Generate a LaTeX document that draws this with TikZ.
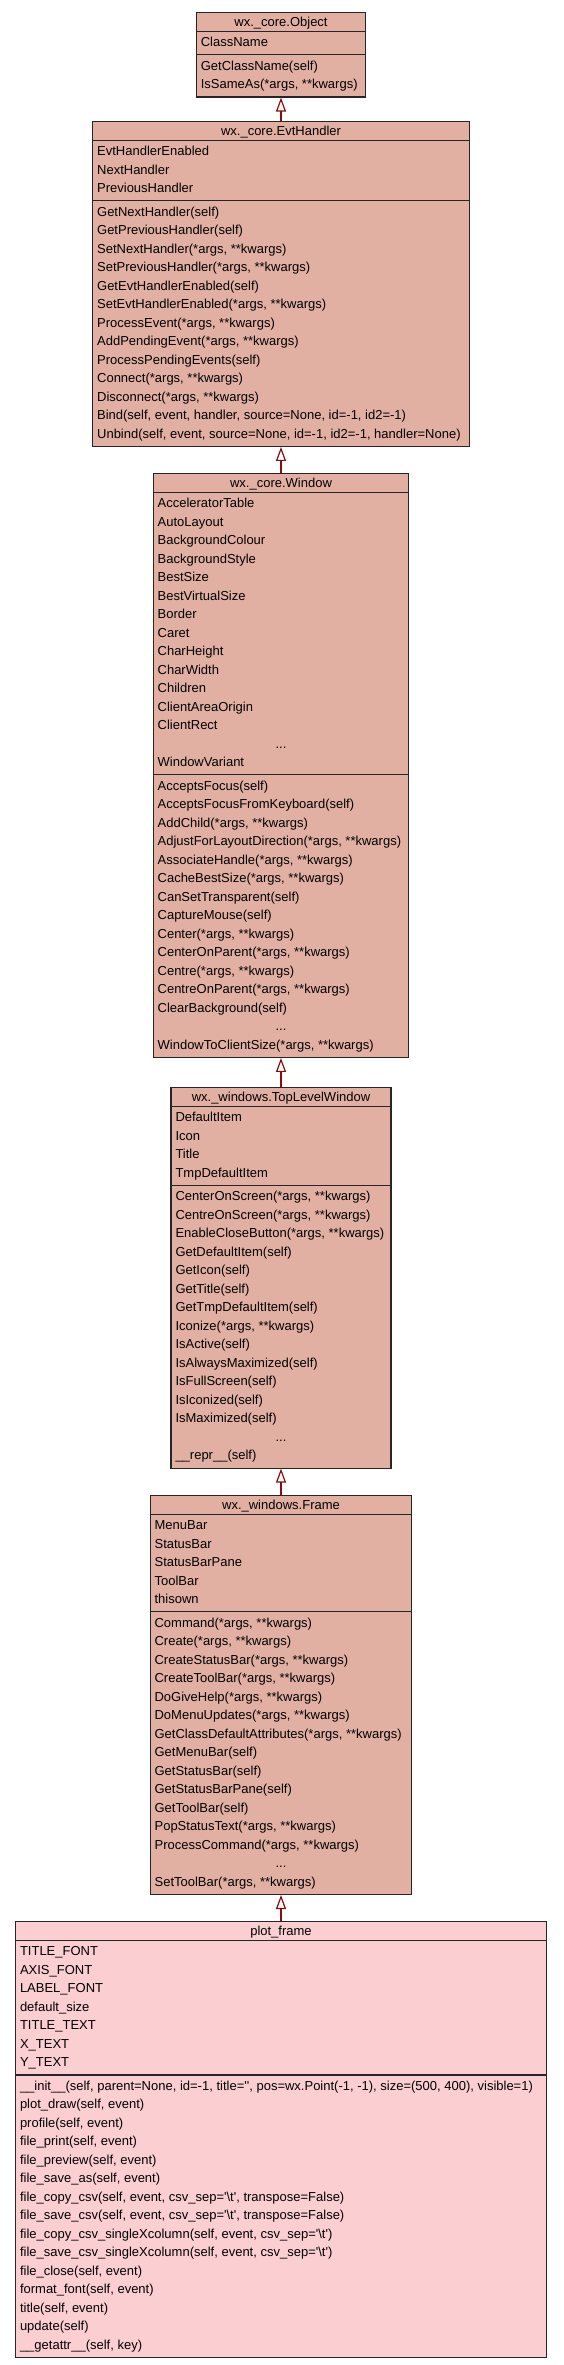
\documentclass[tikz,border=0pt]{standalone}
\usepackage{fontspec}
\setmainfont{Liberation Sans}[Ligatures=TeXOff]
\usetikzlibrary{shapes.multipart,arrows.meta}
\definecolor{wxfill}{RGB}{226,176,163}
\definecolor{plotfill}{RGB}{251,207,210}
\definecolor{inhred}{RGB}{139,12,12}
\newcommand{\tstrut}{\rule[-2pt]{0pt}{13pt}}
\newcommand{\more}[1]{\makebox[#1pt]{...}}
\begin{document}
\begin{tikzpicture}[x=1pt,y=-1pt,
  classbox/.style={draw=black!85,line width=1.1pt,fill=wxfill,anchor=north,
    rectangle split,rectangle split parts=3,rectangle split part align={center,left,left},
    align=left,inner xsep=4.5pt,inner ysep=2pt,font=\fontsize{13}{18.5}\selectfont},
  inherit/.style={draw=inhred,line width=2pt,-{Triangle[open,length=14pt,width=10pt,line width=1.2pt]}}]

\useasboundingbox (0,0) rectangle (563,2365);

\node[classbox,minimum width=169.3pt] (0) at (281,12) {\tstrut wx.\_core.Object
\nodepart{second}\strut ClassName\strut
\nodepart{third}\strut GetClassName(self)\\IsSameAs(*args, **kwargs)\strut};

\node[classbox,minimum width=376.7pt] (1) at (281,121) {\tstrut wx.\_core.EvtHandler
\nodepart{second}\strut EvtHandlerEnabled\\NextHandler\\PreviousHandler\strut
\nodepart{third}\strut GetNextHandler(self)\\GetPreviousHandler(self)\\SetNextHandler(*args, **kwargs)\\SetPreviousHandler(*args, **kwargs)\\GetEvtHandlerEnabled(self)\\SetEvtHandlerEnabled(*args, **kwargs)\\ProcessEvent(*args, **kwargs)\\AddPendingEvent(*args, **kwargs)\\ProcessPendingEvents(self)\\Connect(*args, **kwargs)\\Disconnect(*args, **kwargs)\\Bind(self, event, handler, source=None, id=-1, id2=-1)\\Unbind(self, event, source=None, id=-1, id2=-1, handler=None)\strut};

\node[classbox,minimum width=255.7pt] (2) at (281,473) {\tstrut wx.\_core.Window
\nodepart{second}\strut AcceleratorTable\\AutoLayout\\BackgroundColour\\BackgroundStyle\\BestSize\\BestVirtualSize\\Border\\Caret\\CharHeight\\CharWidth\\Children\\ClientAreaOrigin\\ClientRect\\\more{246.7}\\WindowVariant\strut
\nodepart{third}\strut AcceptsFocus(self)\\AcceptsFocusFromKeyboard(self)\\AddChild(*args, **kwargs)\\AdjustForLayoutDirection(*args, **kwargs)\\AssociateHandle(*args, **kwargs)\\CacheBestSize(*args, **kwargs)\\CanSetTransparent(self)\\CaptureMouse(self)\\Center(*args, **kwargs)\\CenterOnParent(*args, **kwargs)\\Centre(*args, **kwargs)\\CentreOnParent(*args, **kwargs)\\ClearBackground(self)\\\more{246.7}\\WindowToClientSize(*args, **kwargs)\strut};

\node[classbox,minimum width=220pt] (3) at (281,1087) {\tstrut wx.\_windows.TopLevelWindow
\nodepart{second}\strut DefaultItem\\Icon\\Title\\TmpDefaultItem\strut
\nodepart{third}\strut CenterOnScreen(*args, **kwargs)\\CentreOnScreen(*args, **kwargs)\\EnableCloseButton(*args, **kwargs)\\GetDefaultItem(self)\\GetIcon(self)\\GetTitle(self)\\GetTmpDefaultItem(self)\\Iconize(*args, **kwargs)\\IsActive(self)\\IsAlwaysMaximized(self)\\IsFullScreen(self)\\IsIconized(self)\\IsMaximized(self)\\\more{211}\\\_\_repr\_\_(self)\strut};

\node[classbox,minimum width=261.8pt] (4) at (281,1495) {\tstrut wx.\_windows.Frame
\nodepart{second}\strut MenuBar\\StatusBar\\StatusBarPane\\ToolBar\\thisown\strut
\nodepart{third}\strut Command(*args, **kwargs)\\Create(*args, **kwargs)\\CreateStatusBar(*args, **kwargs)\\CreateToolBar(*args, **kwargs)\\DoGiveHelp(*args, **kwargs)\\DoMenuUpdates(*args, **kwargs)\\GetClassDefaultAttributes(*args, **kwargs)\\GetMenuBar(self)\\GetStatusBar(self)\\GetStatusBarPane(self)\\GetToolBar(self)\\PopStatusText(*args, **kwargs)\\ProcessCommand(*args, **kwargs)\\\more{252.8}\\SetToolBar(*args, **kwargs)\strut};

\node[classbox,fill=plotfill,minimum width=531pt] (5) at (281,1921) {\tstrut plot\_frame
\nodepart{second}\strut TITLE\_FONT\\AXIS\_FONT\\LABEL\_FONT\\default\_size\\TITLE\_TEXT\\X\_TEXT\\Y\_TEXT\strut
\nodepart{third}\strut \_\_init\_\_(self, parent=None, id=-1, title='', pos=wx.Point(-1, -1), size=(500, 400), visible=1)\\plot\_draw(self, event)\\profile(self, event)\\file\_print(self, event)\\file\_preview(self, event)\\file\_save\_as(self, event)\\file\_copy\_csv(self, event, csv\_sep='\textbackslash t', transpose=False)\\file\_save\_csv(self, event, csv\_sep='\textbackslash t', transpose=False)\\file\_copy\_csv\_singleXcolumn(self, event, csv\_sep='\textbackslash t')\\file\_save\_csv\_singleXcolumn(self, event, csv\_sep='\textbackslash t')\\file\_close(self, event)\\format\_font(self, event)\\title(self, event)\\update(self)\\\_\_getattr\_\_(self, key)\strut};

\draw[inherit] (1.north)--(0.south);
\draw[inherit] (2.north)--(1.south);
\draw[inherit] (3.north)--(2.south);
\draw[inherit] (4.north)--(3.south);
\draw[inherit] (5.north)--(4.south);

\end{tikzpicture}
\end{document}
